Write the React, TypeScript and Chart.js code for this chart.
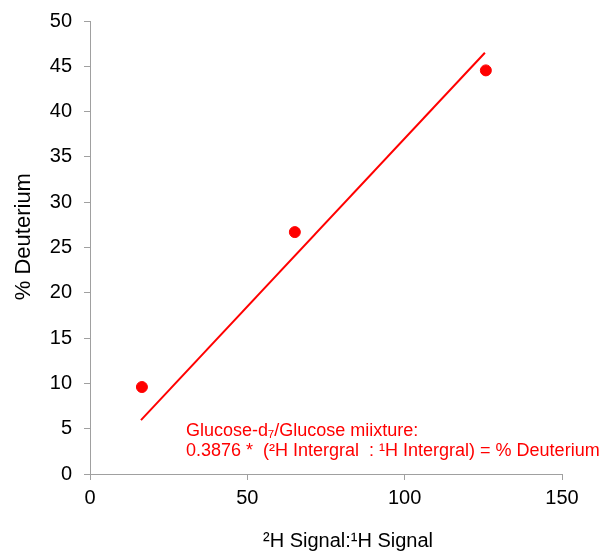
import React, { useEffect, useRef } from "react";
import { Chart, registerables } from "chart.js";

Chart.register(...registerables);

const pointX = [16.5, 65.1, 125.8];
const pointY = [9.6, 26.7, 44.55];
const trendX = [16.2, 125.5];
const trendY = [5.95, 46.5];
const xTicks = [0, 50, 100, 150];
const yTicks = [0, 5, 10, 15, 20, 25, 30, 35, 40, 45, 50];
const xTitle = "²H Signal:¹H Signal";
const yTitle = "% Deuterium";
const noteLines = [
  "Glucose-d₇/Glucose miixture:",
  "0.3876 *  (²H Intergral  : ¹H Intergral) = % Deuterium",
];

const FONT = "'Liberation Sans', Arial, sans-serif";

const notePlugin = {
  id: "notePlugin",
  afterDraw(chart: any) {
    const ctx = chart.ctx;
    const xs = chart.scales.x;
    const ys = chart.scales.y;
    ctx.save();
    ctx.fillStyle = "#ff0000";
    ctx.font = `18px ${FONT}`;
    ctx.textBaseline = "middle";
    ctx.textAlign = "left";
    const x0 = xs.getPixelForValue(30.5);
    ctx.fillText(noteLines[0], x0, ys.getPixelForValue(4.7));
    ctx.fillText(noteLines[1], x0, ys.getPixelForValue(2.5));

    // axis titles
    ctx.fillStyle = "#000";
    ctx.textAlign = "center";
    ctx.font = `20px ${FONT}`;
    ctx.fillText(xTitle, xs.getPixelForValue(82), 541);
    ctx.save();
    ctx.translate(24, ys.getPixelForValue(26.2));
    ctx.rotate(-Math.PI / 2);
    ctx.font = `22px ${FONT}`;
    ctx.fillText(yTitle, 0, 0);
    ctx.restore();
    ctx.restore();
  },
};

export default function App() {
  const ref = useRef<HTMLCanvasElement | null>(null);
  useEffect(() => {
    if (!ref.current) return;
    const chart = new Chart(ref.current, {
      type: "scatter",
      data: {
        datasets: [
          {
            label: "points",
            data: pointX.map((x, i) => ({ x, y: pointY[i] })),
            backgroundColor: "#ff0000",
            borderColor: "#ff0000",
            pointRadius: 5.5,
            pointHoverRadius: 5.5,
          },
          {
            label: "trend",
            data: trendX.map((x, i) => ({ x, y: trendY[i] })),
            showLine: true,
            borderColor: "#ff0000",
            borderWidth: 2,
            pointRadius: 0,
            fill: false,
          },
        ],
      },
      options: {
        responsive: false,
        animation: false,
        layout: { padding: { top: 21, right: 43, left: 0, bottom: 0 } },
        plugins: {
          legend: { display: false },
          tooltip: { enabled: false },
        },
        scales: {
          x: {
            type: "linear",
            min: 0,
            max: 150,
            afterBuildTicks: (s: any) => {
              s.ticks = xTicks.map((v) => ({ value: v }));
            },
            afterFit: (s: any) => {
              s.height = 78;
              s.paddingLeft = 0;
              s.paddingRight = 0;
            },
            grid: {
              drawOnChartArea: false,
              drawTicks: true,
              tickLength: 6,
              color: "#a0a0a0",
            },
            border: { color: "#a0a0a0", width: 1 },
            ticks: {
              color: "#000",
              font: { family: FONT, size: 20 },
              padding: 6,
              maxRotation: 0,
            },
            title: { display: false },
          },
          y: {
            type: "linear",
            min: 0,
            max: 50,
            afterBuildTicks: (s: any) => {
              s.ticks = yTicks.map((v) => ({ value: v }));
            },
            afterFit: (s: any) => {
              s.width = 90;
              s.paddingTop = 0;
              s.paddingBottom = 0;
            },
            grid: {
              drawOnChartArea: false,
              drawTicks: true,
              tickLength: 6,
              color: "#a0a0a0",
            },
            border: { color: "#a0a0a0", width: 1 },
            ticks: {
              color: "#000",
              font: { family: FONT, size: 20 },
              padding: 12,
            },
            title: { display: false },
          },
        },
      },
      plugins: [notePlugin],
    } as any);
    return () => chart.destroy();
  }, []);
  return (
    <div style={{ position: "absolute", left: 0, top: 0, width: 605, height: 552, background: "#fff" }}>
      <canvas ref={ref} width={605} height={552} style={{ display: "block" }} />
    </div>
  );
}
